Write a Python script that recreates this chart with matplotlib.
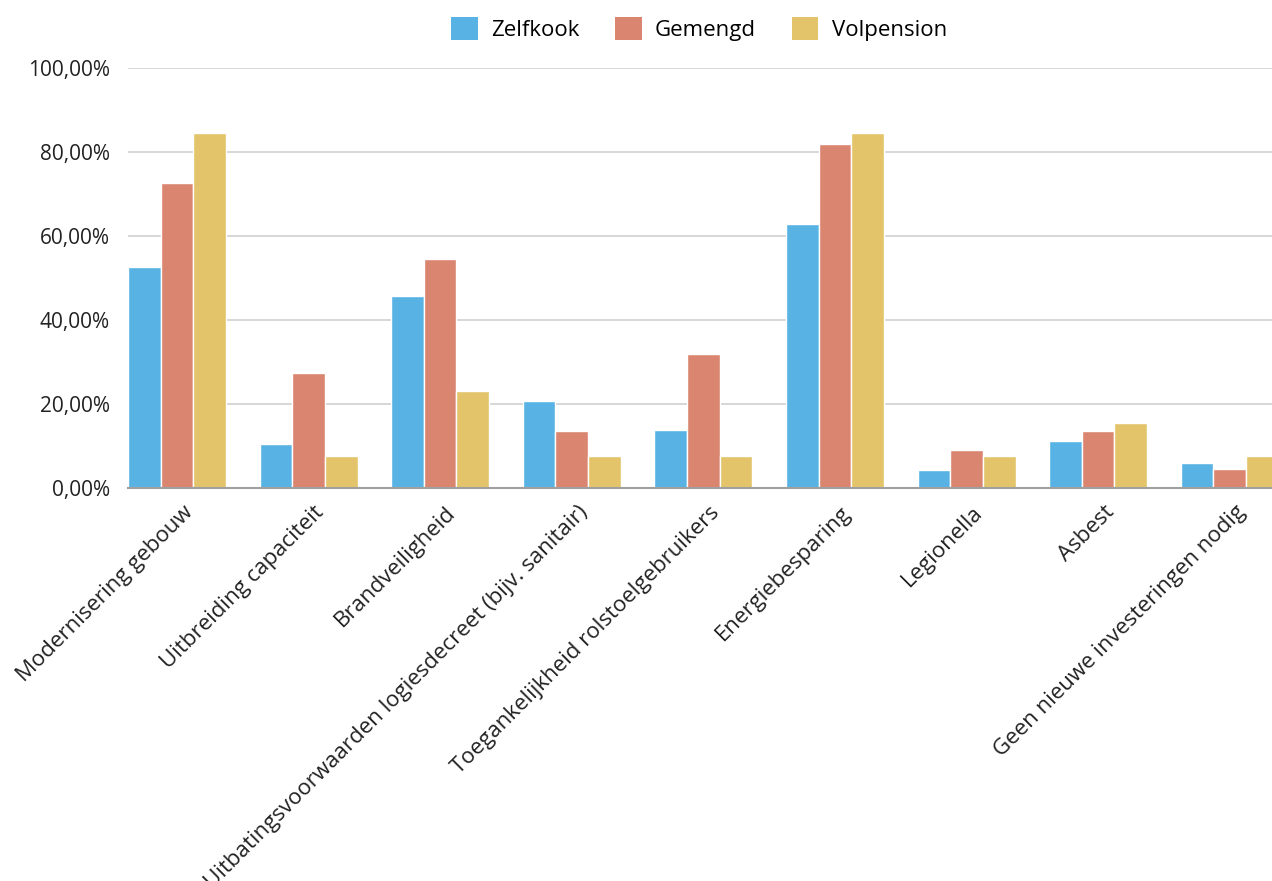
import numpy as np
import matplotlib.pyplot as plt
from matplotlib.patches import Patch
from matplotlib.ticker import FuncFormatter

plt.rcParams['font.family'] = ['Open Sans', 'DejaVu Sans']

categories = ["Modernisering gebouw", "Uitbreiding capaciteit", "Brandveiligheid",
              "Uitbatingsvoorwaarden logiesdecreet (bijv. sanitair)",
              "Toegankelijkheid rolstoelgebruikers", "Energiebesparing",
              "Legionella", "Asbest", "Geen nieuwe investeringen nodig"]
zelfkook = [52.6, 10.5, 45.7, 20.7, 13.8, 62.9, 4.3, 11.2, 6.0]
gemengd = [72.7, 27.3, 54.5, 13.6, 31.8, 81.8, 9.1, 13.6, 4.5]
volpension = [84.6, 7.7, 23.1, 7.7, 7.7, 84.6, 7.7, 15.4, 7.7]

series = [("Zelfkook", zelfkook, "#58b2e3"),
          ("Gemengd", gemengd, "#da8570"),
          ("Volpension", volpension, "#e3c46a")]

fig = plt.figure(figsize=(12.72, 8.81), dpi=100)
ax = fig.add_axes([128/1272, 1-488/881, 1-128/1272, 420/881])

x = np.arange(len(categories))
w = 0.248
for i, (name, vals, col) in enumerate(series):
    ax.bar(x + (i-1)*w, vals, w, color=col, edgecolor="white", linewidth=1, zorder=3)

ax.set_ylim(0, 100)
ax.set_xlim(-1.5*w, -1.5*w + 1144/131.6)
ax.set_yticks(np.arange(0, 101, 20))
ax.yaxis.set_major_formatter(FuncFormatter(lambda v, p: f"{v:.2f}%".replace(".", ",")))
ax.grid(axis="y", color="#d0d0d0", linewidth=1.2, zorder=0)
for s in ["top", "right", "left"]:
    ax.spines[s].set_visible(False)
ax.spines["bottom"].set_color("#a0a0a0")
ax.spines["bottom"].set_linewidth(1.5)
ax.spines["bottom"].set_zorder(4)
ax.tick_params(axis="y", length=0, pad=13, labelsize=15, labelcolor="#222222")
ax.tick_params(axis="x", length=0, pad=10, labelsize=16, labelcolor="#222222")
ax.set_xticks(x + 0.04)
ax.set_xticklabels(categories, rotation=45, ha="right", rotation_mode="anchor")

handles = [Patch(facecolor=c, label=n) for n, _, c in series]
fig.legend(handles=handles, loc="center", bbox_to_anchor=(699/1272, 1-29/881), ncol=3,
           frameon=False, fontsize=16, handlelength=1.2, handleheight=1.2,
           handletextpad=0.6, columnspacing=1.6)

fig.savefig("out.png", dpi=100)
